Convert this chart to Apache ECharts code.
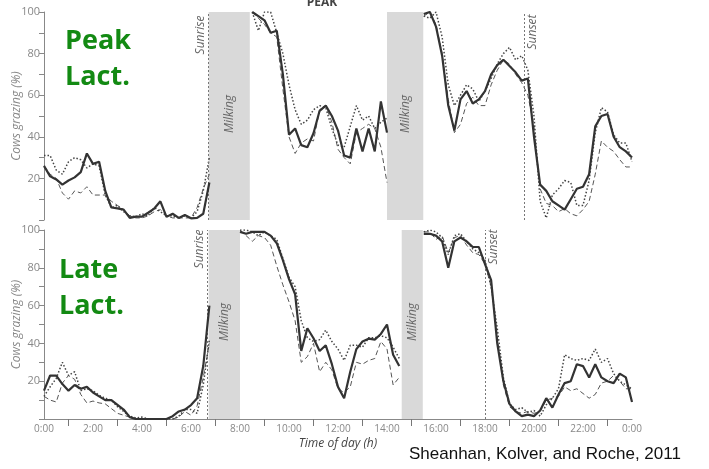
<!DOCTYPE html>
<html><head><meta charset="utf-8">
<script src="https://cdn.jsdelivr.net/npm/echarts@6/dist/echarts.min.js"></script>
<style>html,body{margin:0;padding:0;background:#fff}#c{width:709px;height:469px}</style>
</head><body><div id="c"></div>
<script>
// ---- data (15-minute samples) ----
const STEP_H = 0.25;
// Peak lactation: segments start times (h)
const peakStarts = [0, 8.5, 15.5];
const peakSolidA = [26,21,19.5,17,19,20.5,23,32,27,28,14,6,5.6,5,1,1.6,1.6,3.5,5.5,9,1.5,3,1,2.4,0.8,1,3,18];
const peakSolidB = [100,98,96,90,91,70,41,44,36,35,41.7,52.5,55,50,43,31,30,44,33,44,33,57,42];
const peakSolidC = [99,100,93,79,55,43,58,62,56,58,62,70,74.5,77,74,71,67,68,40,17,14,9,7,5,10,15,16,22,45,50,51,40,35,33,30];
const peakDotA = [31,31,24,22,28,30,29,25,27,26,12,6,7,4,2,1.5,3,2,6,4,2,2,1,2,1,4,14,30];
const peakDotB = [100,91,100,100,90,80,65,53,46,48,53,55,54,44,36,35,45,55,48,50,44,47,49];
const peakDotC = [98,97,100,88,65,55,60,65,63,57,62,68,75,80,83,77,79,72,50,9,1,12,15,19,18,7,7,19,42,54,52,41,37,37,28];
const peakDashA = [26,22,20,13,10,14,13,16,12,12,12,9,7,5,2,1,1,2,4,5,2,1,1,1,1,6,15,22];
const peakDashB = [100,97,94,90,88,63,40,32,37,39,38,53,55,47,34,30,27,42,44,46,44,35,18];
const peakDashC = [98,100,94,80,58,42,46,56,59,55,55,65,72,77,75,70,66,60,45,15,8,7,4,5.5,3,2,5,9,22,38,35,33,29,25.5,25.5];
// Late lactation
const lateStarts = [0, 8.0, 15.5];
const lateSolidA = [15,23,23,18.5,15,18,16,17,14,12,10,10,7.5,5,1,0,0,0,0,0,0,1.5,4,5,7.4,11,28,60];
const lateSolidB = [99,98,99,99,99,97,93,84,74,66,36,48,42.7,36,39,29,17,11,25,37,41,42.5,42,45,50,34,28];
const lateSolidC = [98,98,97,94,80,94,96,94,91,91,82,73.5,40,20,8,4,1.5,2.3,1.5,4.5,11,6,13,19,20,29,28,22,29,22,20,19,24,22,9];
const lateDotA = [12,17,21.5,30,23,25,15,16,15,12.5,11,10,6.5,4,1.5,0.5,1,0,0,0,0,0,1.5,5,5,3,18,42];
const lateDotB = [100,100,99,97,99,97,95,85,75,70,52,43,41,42,47,41,37,31,39,39,38,43,43,44,43,38,32];
const lateDotC = [99,100,99,96,87,97,98,94,90,88,84,70,48,22,8,5,6,3.5,4.5,1.5,7.5,11,16,34,32,31,32,31,37,30,32,24,20,18,16];
const lateDashA = [12,10,9,19,23,21,13,8.5,9.5,8.5,8,5.5,3,2,1,0,0,0,0,0,0,0,1,4,2,7,22,40];
const lateDashB = [100,97,94,97,96,92,81,71,62,52,30,33,40,25,30,26,16,14,17,30,29,31,32,41,37,18,22];
const lateDashC = [99,99,95,97,88,96,97,92,88,87,82,70,44,18,6.5,4,3,4,3,4,10,11,12,17,15,16,13.5,11,13,19,20,23,20,16,16];
// events (hours)
const peakMilking = [[6.72, 8.4], [14.0, 15.48]];
const lateMilking = [[6.72, 8.0], [14.6, 15.46]];
const peakSunrise = 6.72, peakSunset = 19.6;
const lateSunrise = 6.68, lateSunset = 18.0;
// ticks
const xLabelHours = [0,2,4,6,8,10,12,14,16,18,20,22,24];
const xTickHours = [1,3,5,7,9,11,13,15,17,19,21,23];

function joinSegs(starts, segs){
  const out = [];
  segs.forEach((s, k) => {
    if (k > 0) out.push([starts[k] - 0.1, null]);
    s.forEach((v, i) => out.push([starts[k] + i * STEP_H, v]));
  });
  return out;
}

const chart = echarts.init(document.getElementById('c'));
const solidStyle = {color:'#333', width:2.2};
const dotStyle = {color:'#444', width:1.5, type:[1.5,2]};
const dashStyle = {color:'#555', width:1, type:[5,3]};

function yAx(g){
  return {gridIndex:g, type:'value', min:0, max:100, interval:10,
    axisLine:{show:true, lineStyle:{color:'#888', width:1}},
    axisTick:{show:true, length:5, lineStyle:{color:'#888'}},
    axisLabel:{formatter: v => (v > 0 && v % 20 === 0) ? String(v) : '', color:'#888', fontSize:11, margin:4, fontFamily:'Open Sans'},
    splitLine:{show:false},
    name:'Cows grazing (%)', nameLocation:'middle', nameGap:21, nameMoveOverlap:false,
    nameTextStyle:{fontStyle:'italic', color:'#888', fontSize:12, fontFamily:'Open Sans'}};
}
function bg(g, milking, sunrise, sunset){
  return {type:'line', xAxisIndex:g, yAxisIndex:g, data:[], silent:true,
    markArea:{silent:true, itemStyle:{color:'#d9d9d9'}, data: milking.map(m => [{xAxis:m[0]}, {xAxis:m[1]}])},
    markLine:{silent:true, symbol:['none','none'], label:{show:false},
      lineStyle:{type:[2,2], color:'#777', width:1}, data:[{xAxis:sunrise},{xAxis:sunset}]}};
}
function ln(g, data, style, z){
  return {type:'line', xAxisIndex:g, yAxisIndex:g, data, symbol:'none', lineStyle:style, z, connectNulls:false, silent:true};
}

chart.setOption({
  animation:false,
  grid:[{left:44, right:77, top:12, height:208, outerBoundsMode:'none', containLabel:false},
        {left:44, right:77, top:230, height:189, outerBoundsMode:'none', containLabel:false}],
  xAxis:[
    {gridIndex:0, type:'value', min:0, max:24, show:false},
    {gridIndex:1, type:'value', min:0, max:24, interval:2,
      axisLine:{lineStyle:{color:'#888'}},
      axisTick:{customValues:xTickHours, length:7, lineStyle:{color:'#777'}},
      axisLabel:{customValues:xLabelHours, formatter: v => (v % 24) + ':00', color:'#888', fontSize:10, margin:5, fontFamily:'Open Sans'},
      splitLine:{show:false},
      name:'Time of day (h)', nameLocation:'middle', nameGap:19, nameMoveOverlap:false,
      nameTextStyle:{fontStyle:'italic', color:'#444', fontSize:12, fontFamily:'Open Sans'}}
  ],
  yAxis:[yAx(0), yAx(1)],
  series:[
    bg(0, peakMilking, peakSunrise, peakSunset),
    ln(0, joinSegs(peakStarts, [peakDashA, peakDashB, peakDashC]), dashStyle, 3),
    ln(0, joinSegs(peakStarts, [peakDotA, peakDotB, peakDotC]), dotStyle, 4),
    ln(0, joinSegs(peakStarts, [peakSolidA, peakSolidB, peakSolidC]), solidStyle, 5),
    bg(1, lateMilking, lateSunrise, lateSunset),
    ln(1, joinSegs(lateStarts, [lateDashA, lateDashB, lateDashC]), dashStyle, 3),
    ln(1, joinSegs(lateStarts, [lateDotA, lateDotB, lateDotC]), dotStyle, 4),
    ln(1, joinSegs(lateStarts, [lateSolidA, lateSolidB, lateSolidC]), solidStyle, 5)
  ]
});

const px = (g, h) => chart.convertToPixel({xAxisIndex:g}, h);
const vt = (text, x, y) => ({type:'text', x, y, rotation:Math.PI/2, silent:true, z:100,
  style:{text, font:'italic 12px "Open Sans"', fill:'#666', align:'center', verticalAlign:'middle'}});
const g = [
  {type:'text', x:322, y:3, silent:true, z:100, style:{text:'PEAK', font:'bold 12px "Open Sans"', fill:'#444', align:'center', verticalAlign:'middle'}},
  {type:'text', x:65, y:23, silent:true, z:100, style:{text:'Peak\nLact.', font:'bold 27px "Open Sans"', lineHeight:36, fill:'#138a13', align:'left', verticalAlign:'top'}},
  {type:'text', x:59, y:252, silent:true, z:100, style:{text:'Late\nLact.', font:'bold 27px "Open Sans"', lineHeight:36, fill:'#138a13', align:'left', verticalAlign:'top'}},
  vt('Sunrise', px(0, peakSunrise) - 8, 35),
  vt('Sunset', px(0, peakSunset) + 8, 32),
  vt('Sunrise', px(1, lateSunrise) - 8, 249),
  vt('Sunset', px(1, lateSunset) + 9, 247),
  {type:'text', x:409, y:454, silent:true, z:100, style:{text:'Sheanhan, Kolver, and Roche, 2011', font:'17px "Liberation Sans"', fill:'#111', align:'left', verticalAlign:'middle'}}
];
peakMilking.forEach(m => g.push(vt('Milking', (px(0, m[0]) + px(0, m[1])) / 2, 114)));
lateMilking.forEach(m => g.push(vt('Milking', (px(1, m[0]) + px(1, m[1])) / 2, 322)));
chart.setOption({graphic: g});
</script></body></html>
